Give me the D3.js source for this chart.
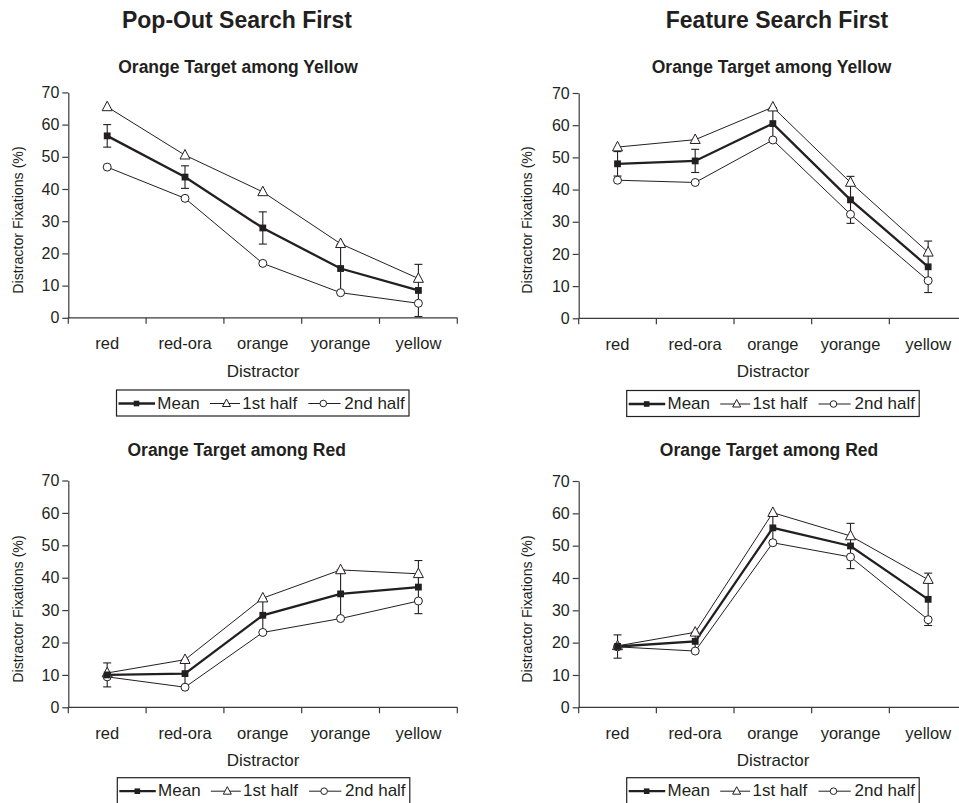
<!DOCTYPE html>
<html>
<head>
<meta charset="utf-8">
<script src="https://cdn.jsdelivr.net/npm/d3@7"></script>
<style>
  html, body { margin: 0; padding: 0; background: #fff; }
  svg { display: block; }
  text { font-family: "Liberation Sans", Arial, Helvetica, sans-serif; fill: #231f20; }
</style>
</head>
<body>
<svg id="chart" width="959" height="803"></svg>
<script>
// ---------- data ----------
const categories = ["red", "red-ora", "orange", "yorange", "yellow"];
const yTicks = [0, 10, 20, 30, 40, 50, 60, 70];
const seriesNames = ["Mean", "1st half", "2nd half"];
const columnTitles = ["Pop-Out Search First", "Feature Search First"];
const panelTitles = ["Orange Target among Yellow", "Orange Target among Red"];
const xAxisLabel = "Distractor";
const yAxisLabel = "Distractor Fixations (%)";

// Pop-Out Search First, Orange Target among Yellow
const popYellowMean   = [56.5, 43.7, 27.9, 15.3, 8.5];
const popYellowFirst  = [65.5, 50.5, 39.1, 23.0, 12.2];
const popYellowSecond = [46.8, 37.1, 16.9, 7.8, 4.5];
const popYellowErr    = [3.5, 3.5, 5.0, 7.5, 8.1];

// Feature Search First, Orange Target among Yellow
const featYellowMean   = [48.0, 48.9, 60.5, 36.8, 16.0];
const featYellowFirst  = [53.2, 55.5, 65.6, 42.2, 20.5];
const featYellowSecond = [42.9, 42.2, 55.4, 32.3, 11.7];
const featYellowErr    = [3.8, 3.6, 5.0, 7.3, 8.0];

// Pop-Out Search First, Orange Target among Red
const popRedMean   = [10.0, 10.4, 28.4, 35.0, 37.1];
const popRedFirst  = [10.6, 14.7, 33.7, 42.4, 41.2];
const popRedSecond = [9.4, 6.2, 23.1, 27.4, 32.8];
const popRedErr    = [3.7, 4.2, 5.1, 7.4, 8.2];

// Feature Search First, Orange Target among Red
const featRedMean   = [18.8, 20.4, 55.5, 49.9, 33.4];
const featRedFirst  = [19.0, 23.2, 60.2, 53.0, 39.5];
const featRedSecond = [18.7, 17.4, 50.9, 46.5, 27.1];
const featRedErr    = [3.6, 2.8, 4.5, 7.0, 8.1];

// ---------- layout ----------
const panels = [
  { mean: popYellowMean, first: popYellowFirst, second: popYellowSecond, err: popYellowErr,
    title: panelTitles[0], x0: 68.3, x1: 457.3, yTop: 92.4, yBot: 317.8,
    titleX: 238, titleY: 72.5, tickY: 349, xlabX: 263, xlabY: 376.5,
    ylabX: 18, ylabY: 220, legX: 116.5, legY: 390 },
  { mean: featYellowMean, first: featYellowFirst, second: featYellowSecond, err: featYellowErr,
    title: panelTitles[0], x0: 578.7, x1: 967, yTop: 93, yBot: 318.3,
    titleX: 771.5, titleY: 72.5, tickY: 349.5, xlabX: 773, xlabY: 377,
    ylabX: 527, ylabY: 220, legX: 626.7, legY: 390.5 },
  { mean: popRedMean, first: popRedFirst, second: popRedSecond, err: popRedErr,
    title: panelTitles[1], x0: 68.3, x1: 457.3, yTop: 480.5, yBot: 707.3,
    titleX: 236.7, titleY: 456, tickY: 738.5, xlabX: 263, xlabY: 765.5,
    ylabX: 18, ylabY: 609, legX: 117.3, legY: 777.7 },
  { mean: featRedMean, first: featRedFirst, second: featRedSecond, err: featRedErr,
    title: panelTitles[1], x0: 578.7, x1: 967, yTop: 481, yBot: 707.3,
    titleX: 769, titleY: 456, tickY: 738.5, xlabX: 773, xlabY: 765.5,
    ylabX: 527, ylabY: 609, legX: 626.7, legY: 777.7 }
];

const INK = "#231f20";
const AXIS = "#3a3a3a";
const svg = d3.select("#chart");

// column titles
[[237, columnTitles[0]], [777, columnTitles[1]]].forEach(([cx, t]) => {
  svg.append("text").attr("x", cx).attr("y", 28)
    .attr("text-anchor", "middle").attr("font-weight", "bold")
    .attr("font-size", "23px").text(t);
});

const triPath = (w, h) => `M0,${-h * 0.6}L${w / 2},${h * 0.4}L${-w / 2},${h * 0.4}Z`;

function drawPanel(p) {
  const g = svg.append("g");
  const x = d3.scaleBand().domain(categories).range([p.x0, p.x1]).padding(0);
  const y = d3.scaleLinear().domain([0, 70]).range([p.yBot, p.yTop]);
  const cx = c => x(c) + x.bandwidth() / 2;

  // title
  g.append("text").attr("x", p.titleX).attr("y", p.titleY)
    .attr("text-anchor", "middle").attr("font-weight", "bold")
    .attr("font-size", "17.5px").text(p.title);

  // y axis
  const ya = g.append("g").attr("transform", `translate(${p.x0},0)`)
    .call(d3.axisLeft(y).tickValues(yTicks).tickSize(6).tickSizeOuter(0).tickPadding(3));
  ya.selectAll("path, line").attr("stroke", AXIS).attr("stroke-width", 1.2);
  ya.selectAll("text").attr("font-size", "16px").attr("fill", INK)
    .attr("font-family", '"Liberation Sans", Arial, sans-serif');

  // x axis line and boundary ticks
  g.append("line").attr("x1", p.x0).attr("x2", p.x1).attr("y1", p.yBot).attr("y2", p.yBot)
    .attr("stroke", AXIS).attr("stroke-width", 1.2);
  const bounds = categories.map(c => x(c)).concat([x(categories[categories.length - 1]) + x.bandwidth()]);
  g.selectAll(".xt").data(bounds).join("line")
    .attr("x1", d => d).attr("x2", d => d)
    .attr("y1", p.yBot).attr("y2", p.yBot + 6)
    .attr("stroke", AXIS).attr("stroke-width", 1.2);
  g.selectAll(".xl").data(categories).join("text")
    .attr("x", d => cx(d)).attr("y", p.tickY)
    .attr("text-anchor", "middle").attr("font-size", "16.5px").text(d => d);

  // axis titles
  g.append("text").attr("x", p.xlabX).attr("y", p.xlabY)
    .attr("text-anchor", "middle").attr("font-size", "17px").text(xAxisLabel);
  g.append("text").attr("transform", `translate(${p.ylabX},${p.ylabY}) rotate(-90)`)
    .attr("text-anchor", "middle").attr("dominant-baseline", "central")
    .attr("font-size", "14.2px").text(yAxisLabel);

  // error bars (mean)
  const eb = g.append("g").attr("stroke", INK).attr("stroke-width", 1.1);
  categories.forEach((c, i) => {
    const xc = cx(c), hi = y(p.mean[i] + p.err[i]), lo = y(p.mean[i] - p.err[i]);
    eb.append("line").attr("x1", xc).attr("x2", xc).attr("y1", hi).attr("y2", lo);
    eb.append("line").attr("x1", xc - 4).attr("x2", xc + 4).attr("y1", hi).attr("y2", hi);
    eb.append("line").attr("x1", xc - 4).attr("x2", xc + 4).attr("y1", lo).attr("y2", lo);
  });

  const line = d3.line().x((d, i) => cx(categories[i])).y(d => y(d));
  g.append("path").attr("d", line(p.first)).attr("fill", "none").attr("stroke", INK).attr("stroke-width", 1);
  g.append("path").attr("d", line(p.second)).attr("fill", "none").attr("stroke", INK).attr("stroke-width", 1);
  g.append("path").attr("d", line(p.mean)).attr("fill", "none").attr("stroke", INK).attr("stroke-width", 2.3);

  // markers
  g.selectAll(".tri").data(p.first).join("path")
    .attr("transform", (d, i) => `translate(${cx(categories[i])},${y(d)})`)
    .attr("d", triPath(10, 9.5)).attr("fill", "#fff").attr("stroke", INK).attr("stroke-width", 1);
  g.selectAll(".cir").data(p.second).join("circle")
    .attr("cx", (d, i) => cx(categories[i])).attr("cy", d => y(d)).attr("r", 4)
    .attr("fill", "#fff").attr("stroke", INK).attr("stroke-width", 1);
  g.selectAll(".sq").data(p.mean).join("rect")
    .attr("x", (d, i) => cx(categories[i]) - 3.4).attr("y", d => y(d) - 3.4)
    .attr("width", 6.8).attr("height", 6.8).attr("fill", INK);

  // legend
  const lg = g.append("g").attr("transform", `translate(${p.legX},${p.legY})`);
  lg.append("rect").attr("x", 0).attr("y", 0).attr("width", 292.5).attr("height", 26)
    .attr("fill", "#fff").attr("stroke", INK).attr("stroke-width", 1.2);
  const ly = 13.5;
  lg.append("line").attr("x1", 2).attr("x2", 38.5).attr("y1", ly).attr("y2", ly)
    .attr("stroke", INK).attr("stroke-width", 2.3);
  lg.append("rect").attr("x", 20 - 2.8).attr("y", ly - 2.8).attr("width", 5.6).attr("height", 5.6).attr("fill", INK);
  lg.append("text").attr("x", 40.8).attr("y", 18.5).attr("font-size", "17px").text(seriesNames[0]);
  lg.append("line").attr("x1", 93.5).attr("x2", 123.5).attr("y1", ly).attr("y2", ly)
    .attr("stroke", INK).attr("stroke-width", 1);
  lg.append("path").attr("transform", `translate(110,${ly})`).attr("d", triPath(8, 7.5))
    .attr("fill", "#fff").attr("stroke", INK).attr("stroke-width", 1);
  lg.append("text").attr("x", 125.8).attr("y", 18.5).attr("font-size", "17px").text(seriesNames[1]);
  lg.append("line").attr("x1", 191.8).attr("x2", 224).attr("y1", ly).attr("y2", ly)
    .attr("stroke", INK).attr("stroke-width", 1);
  lg.append("circle").attr("cx", 206.8).attr("cy", ly).attr("r", 3.3)
    .attr("fill", "#fff").attr("stroke", INK).attr("stroke-width", 1);
  lg.append("text").attr("x", 227.8).attr("y", 18.5).attr("font-size", "17px").text(seriesNames[2]);
}

panels.forEach(drawPanel);
</script>
</body>
</html>
